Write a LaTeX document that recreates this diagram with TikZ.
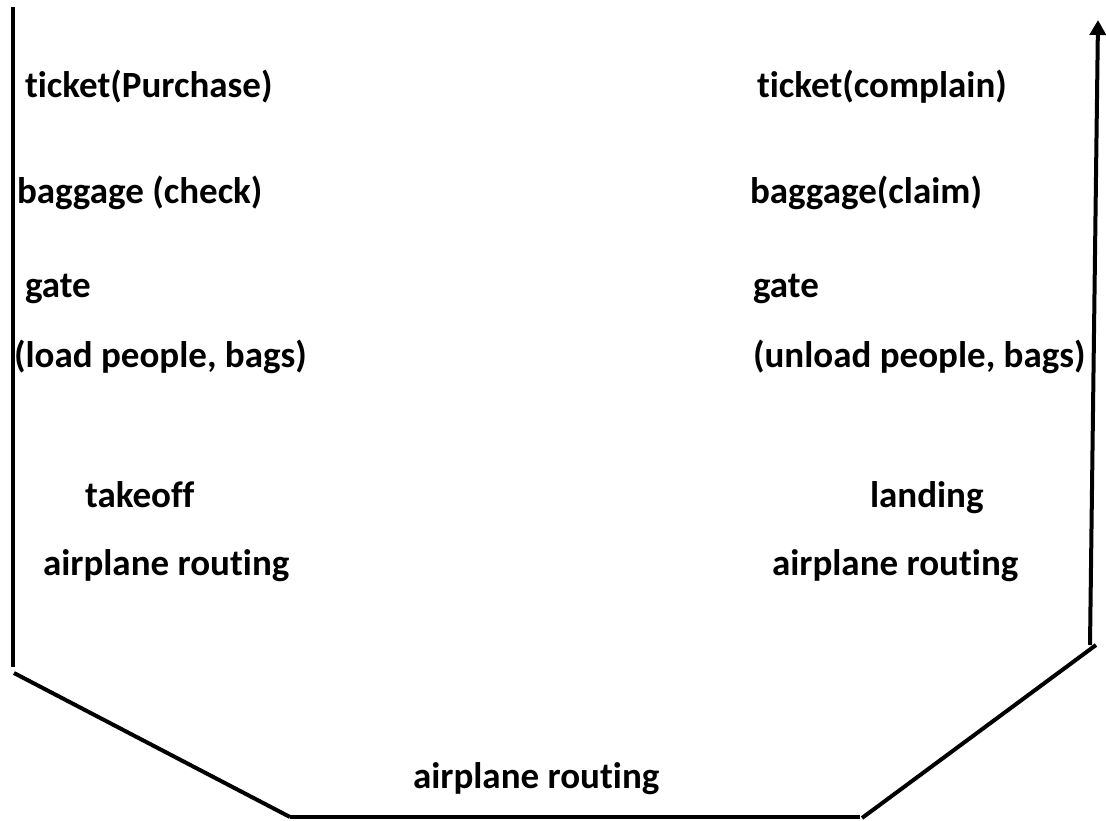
\documentclass[tikz,border=0pt]{standalone}
\usepackage{fontspec}
\setmainfont{Carlito}[Ligatures=CommonOff]
\usepackage{tikz}
\usetikzlibrary{arrows.meta}

\begin{document}
\begin{tikzpicture}[x=1pt,y=-1pt,line width=4pt,
    lbl/.style={anchor=base west,inner sep=0pt,font=\fontsize{37}{44}\selectfont\bfseries}]
    \useasboundingbox (0,0) rectangle (1106,820);
    % sending side
    \node [lbl] (1) at (23,97) {ticket(Purchase)};
    \node [lbl] (2) at (15,203) {baggage (check)};
    \node [lbl] (3) at (23,297) {gate};
    \node [lbl] (4) at (12,367) {(load people, bags)};
    \node [lbl] (5) at (83,507) {takeoff};
    \node [lbl] (6) at (41,575) {airplane routing};
    % receiving side
    \node [lbl] (7) at (755,97) {ticket(complain)};
    \node [lbl] (8) at (748,203) {baggage(claim)};
    \node [lbl] (9) at (751,297) {gate};
    \node [lbl] (10) at (751,367) {(unload people, bags)};
    \node [lbl] (11) at (868,507) {landing};
    \node [lbl] (12) at (770,575) {airplane routing};
    % in between
    \node [lbl] (13) at (411,788) {airplane routing};
    % the path
    \coordinate (a) at (13,7);
    \coordinate (b) at (13,667);
    \coordinate (c) at (14,673);
    \coordinate (d) at (290,817);
    \coordinate (e) at (860,817);
    \coordinate (f) at (862,818);
    \coordinate (g) at (1096,645);
    \coordinate (h) at (1090,645);
    \coordinate (i) at (1098,20);
    \draw (a) -- (b);
    \draw (c) -- (d);
    \draw (d) -- (e);
    \draw (f) -- (g);
    \draw [-{Triangle[width=16pt,length=15pt]}] (h) -- (i);
\end{tikzpicture}
\end{document}
